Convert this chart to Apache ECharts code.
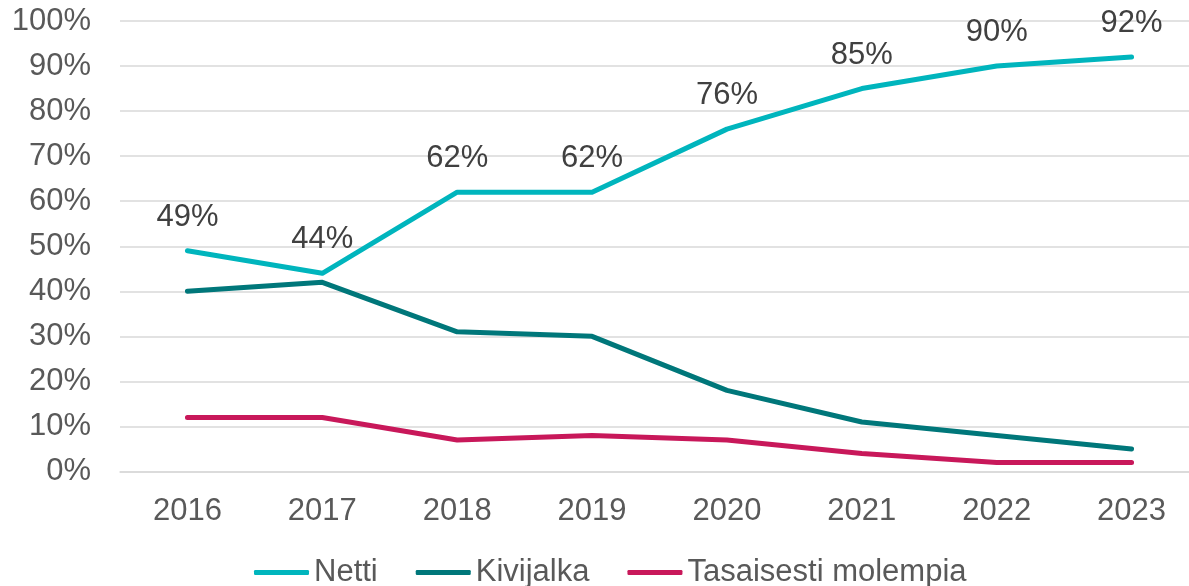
<!DOCTYPE html>
<html>
<head>
<meta charset="utf-8">
<title>Netti vs Kivijalka</title>
<style>
body{margin:0;padding:0;background:#fff;overflow:hidden;}
#main{width:1199px;height:586px;}
</style>
</head>
<body>
<div id="main"></div>
<script src="https://cdn.jsdelivr.net/npm/echarts@6/dist/echarts.min.js"></script>
<script>
var years=['2016','2017','2018','2019','2020','2021','2022','2023'];
var netti=[49,44,62,62,76,85,90,92];
var kivijalka=[40,42,31,30,18,11,8,5];
var molemmat=[12,12,7,8,7,4,2,2];
var colors=['#00b5bd','#00777a','#c8185a'];
var font='"Liberation Sans", Arial, sans-serif';

// canvas a bit wider than the window: the plot runs past the right edge like in the original
var myChart=echarts.init(document.getElementById('main'));
var option={
  animation:false,
  textStyle:{fontFamily:font},
  grid:{left:120,right:0,top:21,bottom:114.5,containLabel:false},
  legend:{
    bottom:-7,
    left:249,
    itemWidth:55,
    itemHeight:5,
    itemGap:38,
    icon:'roundRect',
    textStyle:{fontSize:31,color:'#595959',fontFamily:font},
    data:['Netti','Kivijalka','Tasaisesti molempia']
  },
  xAxis:{
    type:'category',
    data:years,
    axisLine:{lineStyle:{color:'#d9d9d9',width:1.5}},
    axisTick:{show:false},
    axisLabel:{fontSize:31,color:'#595959',margin:24,fontFamily:font}
  },
  yAxis:{
    type:'value',
    min:0,max:100,interval:10,
    axisLine:{show:false},
    axisTick:{show:false},
    axisLabel:{fontSize:31,color:'#595959',margin:29,formatter:'{value}%',fontFamily:font},
    splitLine:{lineStyle:{color:'#d9d9d9',width:1.5}}
  },
  series:[
    {
      name:'Netti',type:'line',data:netti,
      symbol:'circle',symbolSize:0,
      lineStyle:{width:5,color:colors[0],cap:'round',join:'round'},
      itemStyle:{color:colors[0]},
      label:{show:true,position:'top',distance:18,formatter:'{c}%',fontSize:31,color:'#404040',fontFamily:font}
    },
    {
      name:'Kivijalka',type:'line',data:kivijalka,
      symbol:'none',
      lineStyle:{width:5,color:colors[1],cap:'round',join:'round'},
      itemStyle:{color:colors[1]}
    },
    {
      name:'Tasaisesti molempia',type:'line',data:molemmat,
      symbol:'none',
      lineStyle:{width:5,color:colors[2],cap:'round',join:'round'},
      itemStyle:{color:colors[2]}
    }
  ]
};
myChart.setOption(option);
</script>
</body>
</html>
